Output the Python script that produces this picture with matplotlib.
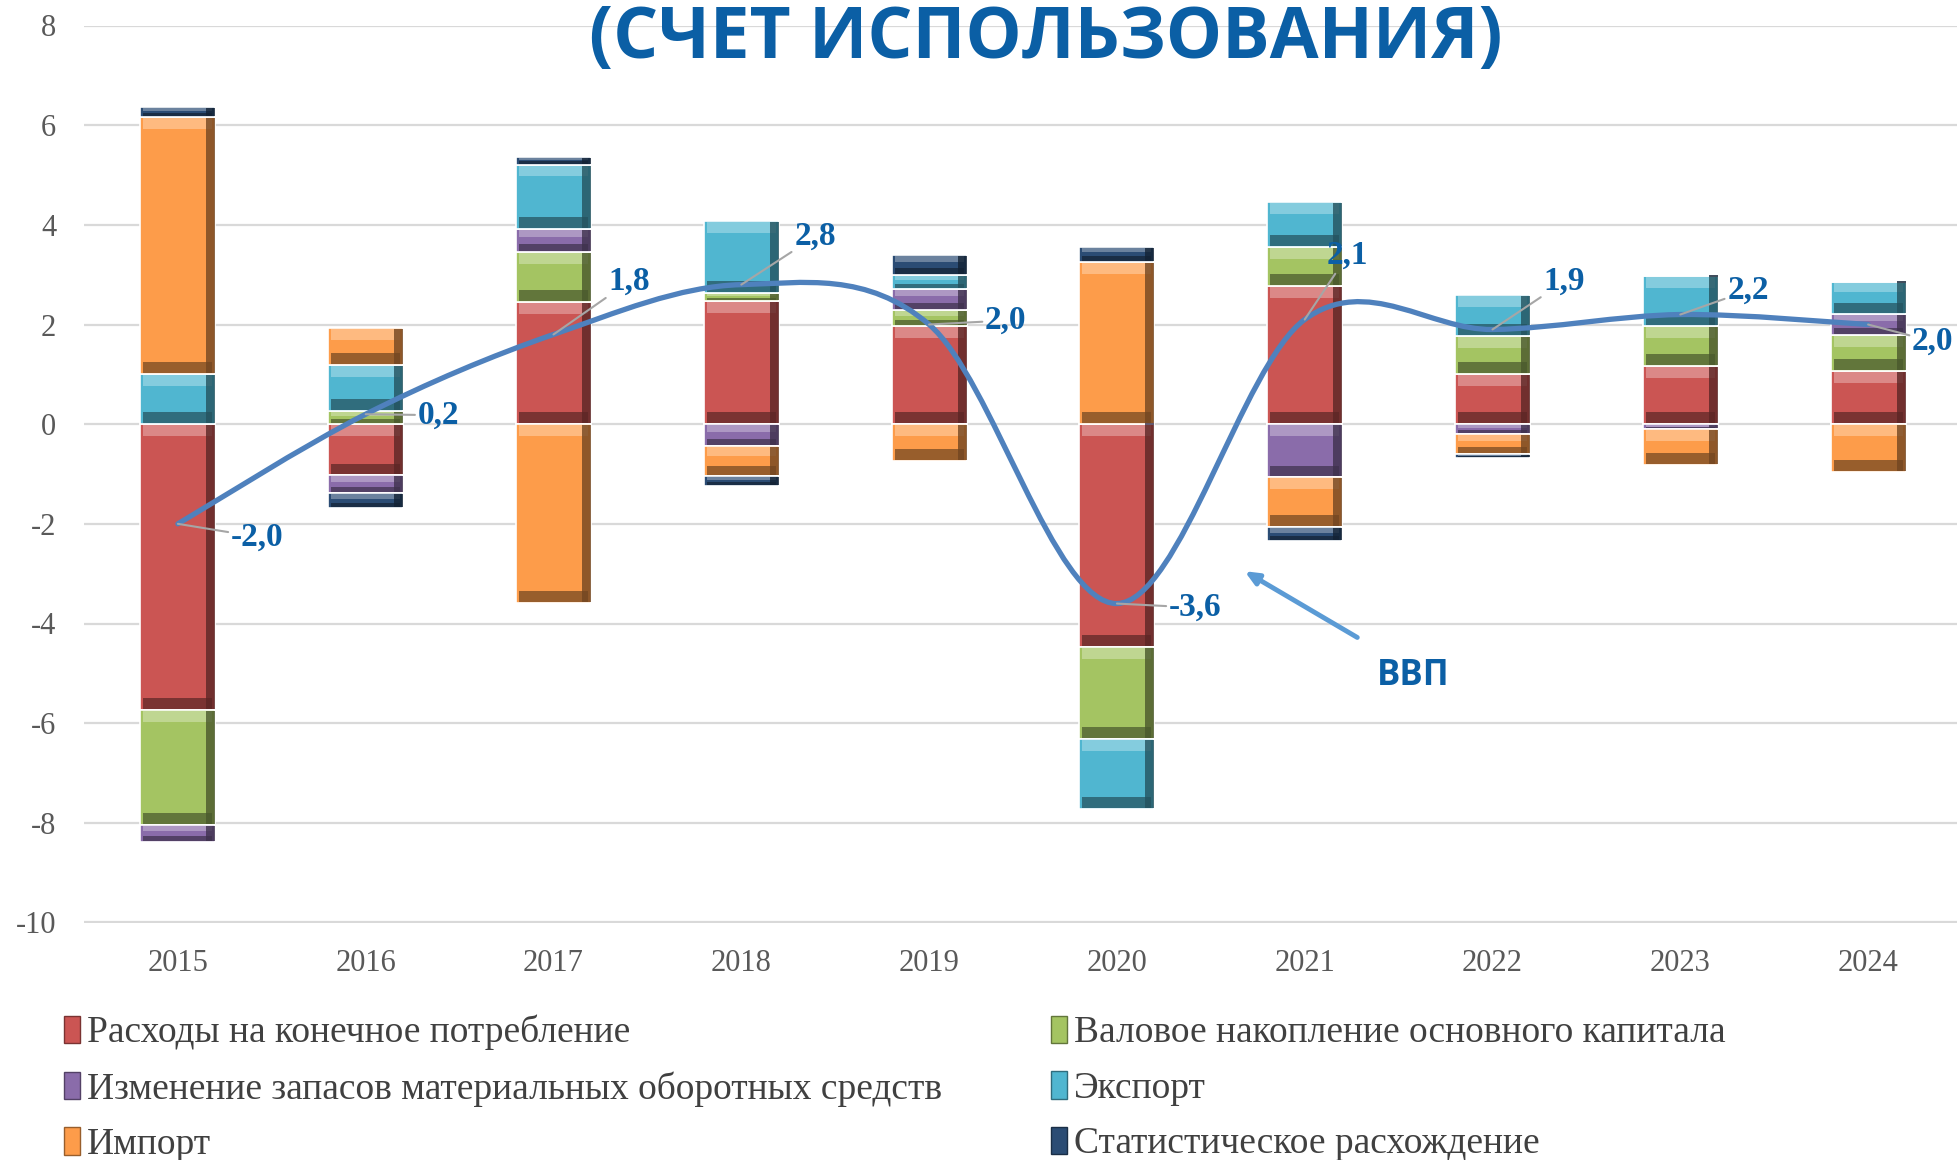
import numpy as np
import matplotlib.pyplot as plt
from matplotlib.path import Path
from matplotlib.patches import PathPatch, Patch

years = ["2015", "2016", "2017", "2018", "2019", "2020", "2021", "2022", "2023", "2024"]

consumption = [-5.74, -1.03, 2.45, 2.47, 1.97, -4.48, 2.78, 1.00, 1.16, 1.06]
investment = [-2.30, 0.26, 1.01, 0.16, 0.32, -1.84, 0.78, 0.77, 0.80, 0.73]
inventory = [-0.35, -0.36, 0.45, -0.44, 0.42, 0.00, -1.07, -0.20, -0.10, 0.42]
exports = [1.00, 0.92, 1.30, 1.45, 0.28, -1.40, 0.90, 0.82, 1.02, 0.65]
imports = [5.17, 0.75, -3.58, -0.60, -0.74, 3.26, -1.00, -0.40, -0.72, -0.95]
discrepancy = [0.19, -0.29, 0.15, -0.21, 0.40, 0.30, -0.28, -0.08, 0.00, 0.00]
gdp = [-2.0, 0.2, 1.8, 2.8, 2.0, -3.6, 2.1, 1.9, 2.2, 2.0]

series_names = [
    "Расходы на конечное потребление",
    "Валовое накопление основного капитала",
    "Изменение запасов материальных оборотных средств",
    "Экспорт",
    "Импорт",
    "Статистическое расхождение",
]
series = [consumption, investment, inventory, exports, imports, discrepancy]
colors = ["#CB5553", "#A4C462", "#8A6CAA", "#50B6D0", "#FD9C4A", "#2B4C74"]

ytick_vals = [-10, -8, -6, -4, -2, 0, 2, 4, 6, 8]
ytick_labels = ["-10", "-8", "-6", "-4", "-2", "0", "2", "4", "6", "8"]

# offsets of the data labels (pixels) from the line points
label_offsets = [(53, -13), (52, -1), (55, 53), (53, 48), (56, 4),
                 (52, -4), (22, 64), (51, 48), (47, 24), (44, -17)]

W, H = 1957, 1160
fig = plt.figure(figsize=(W / 100, H / 100), dpi=100)
ax = fig.add_axes([84 / W, 1 - 922.5 / H, 1878 / W, 897 / H])

x = np.arange(len(years))
bw = 0.4
pos_base = np.zeros(len(years))
neg_base = np.zeros(len(years))


def shade(c, f):
    c = np.array(plt.matplotlib.colors.to_rgb(c))
    if f > 0:
        return tuple(c + (1 - c) * f)
    return tuple(c * (1 + f))


for vals, col in zip(series, colors):
    v = np.array(vals)
    bottom = np.where(v >= 0, pos_base, neg_base)
    ax.bar(x, v, bw, bottom=bottom, color=col, edgecolor="white", linewidth=1.2, zorder=2)
    lo = np.minimum(bottom, bottom + v)
    hi = np.maximum(bottom, bottom + v)
    band = np.minimum(0.22, 0.3 * np.abs(v))
    ax.bar(x, band, bw * 0.92, bottom=hi - band - 0.02, color=shade(col, 0.3), linewidth=0, zorder=3)
    ax.bar(x, band, bw * 0.92, bottom=lo + 0.02, color=shade(col, -0.4), linewidth=0, zorder=3)
    ax.bar(x + bw * 0.44, np.abs(v) - 0.04, bw * 0.12, bottom=lo + 0.02,
           color=shade(col, -0.55), linewidth=0, zorder=3, alpha=0.8)
    pos_base = pos_base + np.where(v >= 0, v, 0)
    neg_base = neg_base + np.where(v < 0, v, 0)

# smooth GDP line (Catmull-Rom as Bezier curves)
pts = np.column_stack([x, gdp]).astype(float)
verts = [pts[0]]
codes = [Path.MOVETO]
n = len(pts)
for i in range(n - 1):
    p0 = pts[max(i - 1, 0)]
    p1 = pts[i]
    p2 = pts[i + 1]
    p3 = pts[min(i + 2, n - 1)]
    verts += [p1 + (p2 - p0) / 6, p2 - (p3 - p1) / 6, p2]
    codes += [Path.CURVE4] * 3
ax.add_patch(PathPatch(Path(verts, codes), facecolor="none", edgecolor="#4F81BD",
                       lw=3.8, zorder=4, capstyle="round"))

for i, v in enumerate(gdp):
    ax.annotate(f"{v:.1f}".replace(".", ","), (i, v), xytext=label_offsets[i],
                textcoords="offset pixels", ha="left", va="center",
                fontsize=24, fontweight="bold", color="#0B5FA5", family="Liberation Serif",
                arrowprops=dict(arrowstyle="-", color="#A6A6A6", lw=1.5,
                                shrinkA=0, shrinkB=0), zorder=5)

ax.annotate("", xy=(5.68, -2.95), xytext=(6.28, -4.28),
            arrowprops=dict(arrowstyle="-|>,head_length=0.8,head_width=0.35",
                            color="#5B9BD5", lw=3.5, shrinkA=0, shrinkB=0), zorder=5)
ax.text(6.58, -5.05, "ВВП", ha="center", va="center", fontsize=25, fontweight="bold",
        color="#0B5FA5", family="Open Sans")

ax.set_xlim(-0.5, 9.5)
ax.set_ylim(-10, 8)
ax.set_xticks(x)
ax.set_xticklabels(years)
ax.set_yticks(ytick_vals)
ax.set_yticklabels(ytick_labels)
ax.tick_params(length=0, labelsize=22, labelcolor="#595959")
ax.tick_params(axis="y", pad=20)
ax.tick_params(axis="x", pad=19)
for lab in ax.get_xticklabels() + ax.get_yticklabels():
    lab.set_family("Liberation Serif")
ax.grid(axis="y", color="#D9D9D9", lw=1.6, zorder=0)
ax.set_axisbelow(True)
for s in ax.spines.values():
    s.set_visible(False)

fig.text(1046 / W, 1 - 58 / H, "(СЧЕТ ИСПОЛЬЗОВАНИЯ)", ha="center", va="baseline",
         fontsize=51, fontweight="bold", color="#0B5FA5", family="Open Sans")

handles = [Patch(facecolor=c, edgecolor=shade(c, -0.4)) for c in colors]
order = [0, 2, 4, 1, 3, 5]
leg = fig.legend([handles[i] for i in order], [series_names[i] for i in order],
                 ncol=2, loc="upper left", bbox_to_anchor=(64 / W, 1 - 1015 / H),
                 frameon=False, prop={"family": "Liberation Serif", "size": 27},
                 handlelength=0.42, handleheight=0.75, handletextpad=0.2,
                 columnspacing=2.9, labelspacing=0.55, borderaxespad=0, borderpad=0)
for t in leg.get_texts():
    t.set_color("#404040")

fig.savefig("out.png", dpi=100)
